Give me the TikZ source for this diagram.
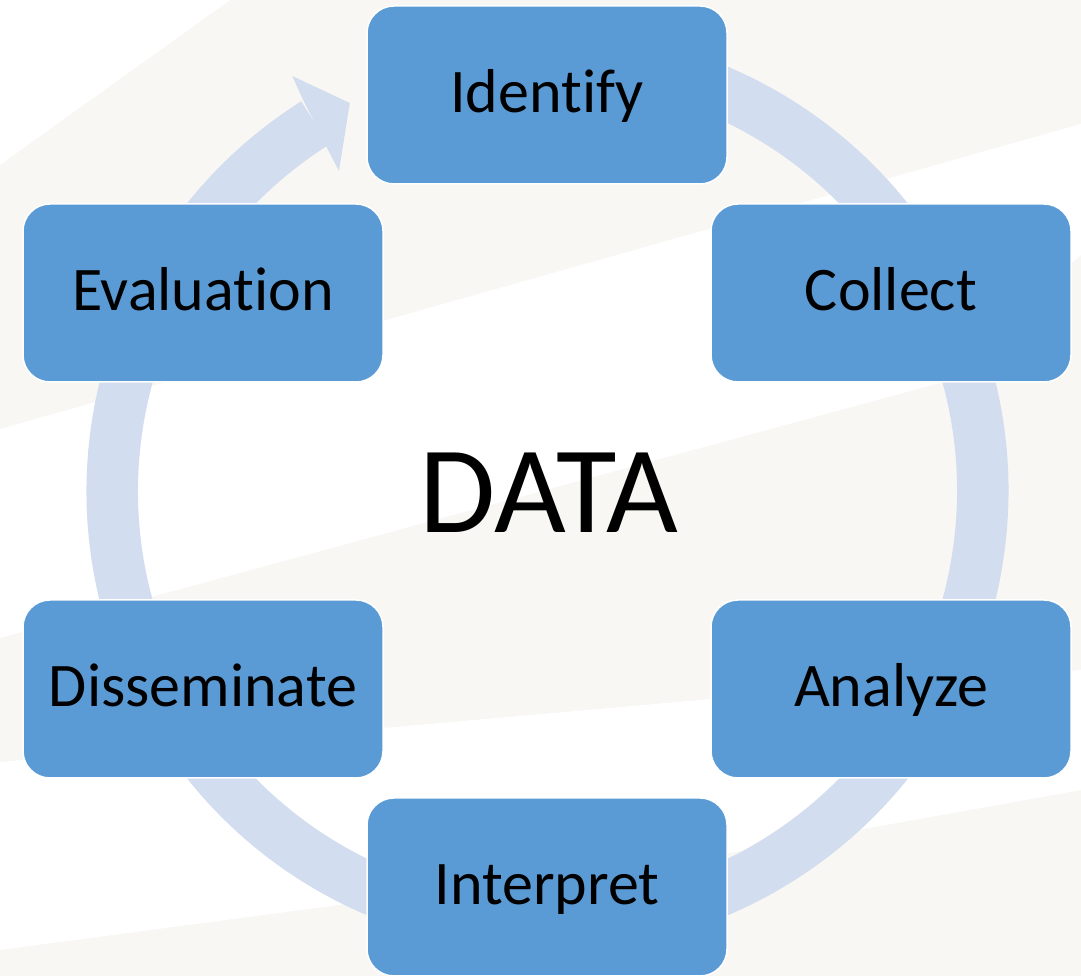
\documentclass[tikz,border=0pt]{standalone}
\usepackage{fontspec}
\setmainfont{Carlito}[Ligatures={NoCommon}]
\definecolor{boxblue}{HTML}{5B9BD5}
\definecolor{ringblue}{HTML}{D2DEEF}
\definecolor{bgbeige}{HTML}{F8F7F3}
\begin{document}
\begin{tikzpicture}[x=1pt,y=1pt,
  stepbox/.style={draw=white, line width=1.5pt, fill=boxblue, rounded corners=27pt,
    minimum width=360pt, minimum height=178pt, inner sep=0pt,
    font=\fontsize{62}{62}\selectfont, text height=40pt, text depth=4pt, text=black},
  centertext/.style={font=\fontsize{124}{124}\selectfont, text=black, inner sep=0pt, anchor=base},
  ringfill/.style={fill=ringblue}]
\useasboundingbox (0,0) rectangle (1081,976);
% background
\fill[bgbeige] (0,0) rectangle (1081,976);
\fill[white] (0,976) -- (230,976) -- (0,811) -- cycle;
\fill[white] (0,547) -- (1081,852) -- (1081,721) -- (940,593) -- (140,376) -- (0,338) -- cycle;
\fill[white] (0,214) -- (700,276) -- (1081,306) -- (1081,186) -- (730,123) -- (0,26) -- cycle;
% cycle ring with arrow head
\coordinate (c) at (547.5,485);
\fill[ringfill] ([shift={(122.3:461)}]c) arc[start angle=122.3, end angle=440, radius=461]
  -- ([shift={(440:409.5)}]c) arc[start angle=440, end angle=122.3, radius=409.5] -- cycle;
\fill[ringfill] ([shift={(122.0:461)}]c) -- ([shift={(121.6:487.3)}]c) -- ([shift={(117:435.4)}]c)
  -- ([shift={(123.1:381.9)}]c) -- ([shift={(122.7:409.5)}]c) -- cycle;
% centre text
\node[centertext] (data) at (549,443) {DATA};
% steps
\node[stepbox] (identify) at (547,881) {Identify};
\node[stepbox] (collect) at (891,683) {Collect};
\node[stepbox] (analyze) at (891,287) {Analyze};
\node[stepbox] (interpret) at (547,89) {Interpret};
\node[stepbox] (disseminate) at (203,287) {Disseminate};
\node[stepbox] (evaluation) at (203,683) {Evaluation};
\end{tikzpicture}
\end{document}
